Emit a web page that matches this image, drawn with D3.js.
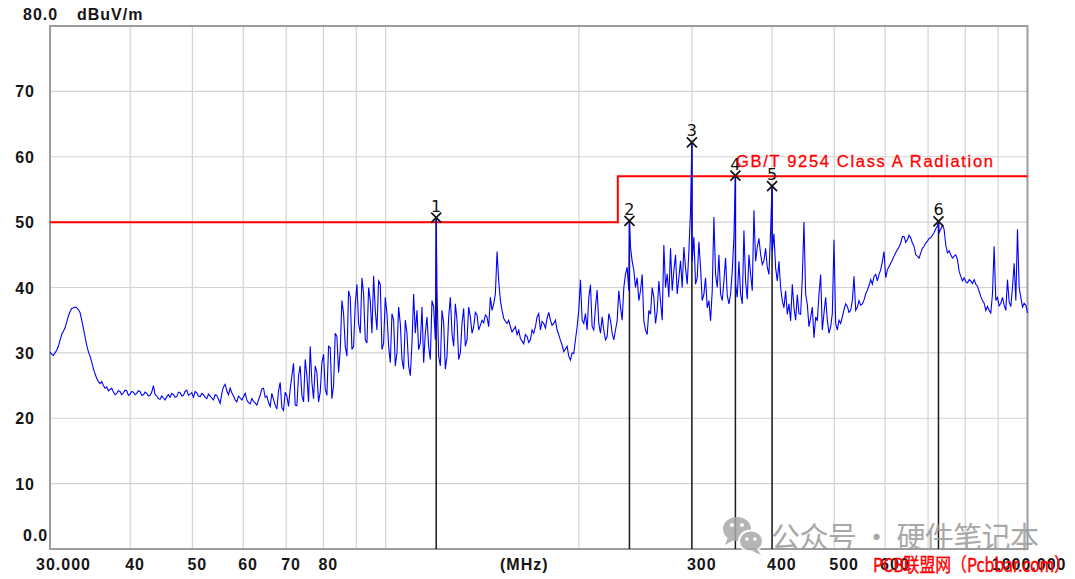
<!DOCTYPE html>
<html><head><meta charset="utf-8">
<script src="https://cdn.jsdelivr.net/npm/d3@7/dist/d3.min.js"></script>
<style>
html,body{margin:0;padding:0;background:#fff;}
svg{display:block;}
</style></head>
<body><svg id="c" width="1075" height="579"></svg>
<script>
// ---------------- DATA ----------------
const freqStartMHz = 30, freqStopMHz = 1000;
// measured level (dBuV/m) at each sweep point (sweep points log-spaced from 30 to 1000 MHz)
const sweepLevels = [
 30.1,29.6,30.4,31.9,33.3,34.7,36.3,36.9,36.9,36.2,
 33.8,31.2,29.5,27.6,26.1,25.3,25.0,24.8,24.4,24.0,
 23.8,24.1,23.9,24.2,23.7,24.0,23.8,24.1,23.6,23.8,
 23.5,25.0,23.4,22.9,23.1,23.3,23.2,23.6,23.3,23.9,
 23.5,24.3,23.7,23.2,23.9,23.3,23.6,23.0,23.4,22.8,
 23.5,22.3,24.8,24.2,24.6,23.4,22.5,23.1,23.3,22.8,
 22.2,22.6,22.0,23.5,24.6,23.4,21.8,22.9,21.4,25.5,
 21.2,23.4,24.5,28.4,21.9,28.0,22.5,26.5,31.0,23.0,
 27.0,24.0,29.8,23.5,30.8,25.0,32.5,30.5,36.0,29.5,
 38.5,31.0,40.5,33.0,39.0,31.5,38.0,41.8,33.5,40.5,
 31.5,36.0,28.5,35.0,30.0,34.5,27.5,33.0,26.5,39.0,
 36.5,31.5,28.5,35.5,29.0,37.0,39.5,28.0,34.5,29.5,
 38.5,31.0,35.0,30.0,36.8,32.0,35.5,34.0,35.8,34.2,
 34.6,35.5,38.5,37.5,45.5,38.0,35.3,34.5,34.0,33.6,
 32.8,32.2,31.4,32.5,32.0,33.0,35.5,33.5,34.5,35.3,
 35.0,34.5,33.5,31.9,30.2,31.0,28.9,29.9,34.0,41.2,
 34.5,33.5,40.4,33.5,39.6,33.0,33.5,32.5,35.0,32.0,
 34.9,37.0,40.0,43.1,46.2,42.6,41.5,39.5,34.9,32.8,
 35.9,38.5,36.4,37.9,46.5,42.1,46.0,42.6,39.0,44.1,
 46.2,40.5,51.8,47.7,41.5,43.0,39.0,36.9,34.9,50.8,
 40.0,39.0,41.0,38.8,39.0,47.7,38.5,39.0,48.7,38.2,
 42.1,51.8,46.2,45.1,44.1,43.1,48.7,48.2,41.0,40.0,
 36.9,35.9,34.9,36.9,38.9,35.9,50.0,37.4,35.4,32.3,
 34.9,42.0,36.1,35.0,34.0,47.3,33.5,34.5,36.6,37.1,
 36.5,41.7,37.0,37.3,38.1,39.6,41.2,41.7,41.0,42.7,
 45.5,42.7,43.7,44.8,45.8,46.8,47.8,47.3,47.6,46.3,
 44.8,45.3,46.3,47.1,47.6,48.4,49.4,48.9,48.9,45.3,
 45.0,44.8,44.3,41.7,41.5,40.7,41.0,41.2,40.2,38.6,
 37.6,37.1,36.1,46.3,38.5,37.6,37.3,41.2,37.1,43.7,
 48.9,38.5,37.6,36.1
];
// measured level (dBuV/m) half-way between consecutive sweep points
const sweepLevelsMid = [
 29.8,30.0,31.0,32.8,33.8,35.6,36.8,37.0,36.6,35.0,
 32.5,30.2,28.6,26.8,25.6,25.6,24.6,24.2,24.6,23.6,
 24.2,23.6,24.3,23.5,24.1,23.6,24.2,23.5,24.0,23.4,
 24.0,23.6,23.0,23.4,22.8,23.6,23.8,23.2,24.0,23.4,
 24.1,23.5,23.9,24.1,23.4,23.8,23.2,23.7,23.1,23.6,
 22.9,23.8,25.2,23.6,23.9,22.8,23.4,22.8,23.8,22.4,
 23.0,22.3,22.8,24.5,23.2,22.4,23.8,22.0,24.2,21.6,
 24.0,21.8,26.5,22.0,26.5,23.5,29.0,22.5,25.5,28.0,
 22.5,28.5,24.5,31.0,23.0,33.0,27.0,38.0,31.0,39.5,
 30.5,37.5,34.5,41.5,32.0,40.0,33.0,36.5,41.0,30.5,
 38.5,31.0,36.0,28.0,37.0,29.0,35.0,28.0,31.5,33.0,
 30.5,37.0,33.0,31.0,38.0,32.0,29.5,36.5,27.5,35.5,
 33.0,37.5,29.0,34.5,31.0,37.0,33.0,36.2,33.5,35.0,
 35.8,34.0,36.5,39.0,41.0,36.5,34.8,35.0,33.2,34.0,
 33.5,31.8,32.8,31.6,33.5,34.0,36.0,34.8,33.8,36.2,
 34.2,35.0,32.8,31.2,30.6,29.5,30.0,32.0,36.5,35.0,
 36.0,38.5,34.0,37.0,34.5,35.5,32.0,36.0,33.0,33.5,
 39.5,35.0,42.0,39.5,44.0,40.0,38.0,42.0,33.5,36.5,
 40.0,34.5,41.0,35.0,40.0,38.5,39.5,45.0,41.5,40.0,
 43.0,45.5,44.0,40.5,47.0,38.0,41.5,38.0,39.5,42.0,
 45.0,38.0,44.5,37.5,42.5,40.5,44.0,37.5,41.0,45.0,
 39.5,44.0,47.5,43.5,46.0,42.0,45.5,43.0,44.0,38.0,
 39.5,37.5,40.5,35.0,36.0,41.5,39.0,34.0,37.0,35.5,
 39.0,33.5,38.5,33.0,36.0,34.5,35.0,35.5,37.5,36.2,
 38.0,36.5,38.0,37.5,39.0,40.3,40.5,42.0,42.0,44.0,
 41.5,43.2,44.2,45.3,46.2,47.8,46.9,48.0,46.8,45.0,
 44.5,46.0,46.8,47.5,48.0,49.0,48.4,49.5,46.5,45.6,
 44.5,45.0,42.5,41.0,40.9,41.2,40.6,40.5,39.4,38.0,
 36.5,36.5,39.0,38.0,37.2,38.5,36.5,37.8,40.0,38.0,
 40.0,37.0,37.3
];
const markerNo    = [1, 2, 3, 4, 5, 6];
const markerFreq  = [119.9, 239.8, 300.0, 350.7, 400.0, 726.6];
const markerLevel = [50.7, 50.2, 62.2, 57.1, 55.5, 50.1];
const limitFreq   = [30, 230, 230, 1000];
const limitLevel  = [50, 50, 57, 57];
const limitName   = "GB/T 9254 Class A Radiation";
const yTicks      = [10, 20, 30, 40, 50, 60, 70];
const xGrid       = [40,50,60,70,80,90,100,200,300,400,500,600,700,800,900];
const xLabelVals  = [30, 40, 50, 60, 70, 80, 300, 400, 500, 600, 1000];
const xLabelTexts = ["30.000","40","50","60","70","80","300","400","500","600","1000.000"];

// ---------------- CHART ----------------
const svg = d3.select("#c");
const L = 50, R = 1027.5, T = 26, B = 549;
const x = d3.scaleLog().domain([freqStartMHz, freqStopMHz]).range([L, R]);
const y = d3.scaleLinear().domain([0, 80]).range([B, T]);
const labelFont = "'Liberation Sans', Arial, sans-serif";

// grid
const g = svg.append("g");
g.selectAll("line.h").data(yTicks).join("line")
  .attr("x1", L).attr("x2", R).attr("y1", d => y(d)).attr("y2", d => y(d))
  .attr("stroke", "#d3d3d3").attr("stroke-width", 1.2);
g.selectAll("line.v").data(xGrid).join("line")
  .attr("x1", d => x(d)).attr("x2", d => x(d)).attr("y1", T).attr("y2", B)
  .attr("stroke", "#d3d3d3").attr("stroke-width", 1.2);

// frame
svg.append("rect").attr("x", L).attr("y", T).attr("width", R - L).attr("height", B - T)
  .attr("fill", "none").attr("stroke", "#9c9c9c").attr("stroke-width", 2);

// limit line
const limitPts = limitFreq.map((f, i) => [f, limitLevel[i]]);
svg.append("path").datum(limitPts)
  .attr("d", d3.line().x(d => x(d[0])).y(d => y(d[1])))
  .attr("fill", "none").attr("stroke", "#ff0000").attr("stroke-width", 2);

// marker vertical lines
svg.selectAll("line.mk").data(markerFreq).join("line")
  .attr("x1", d => x(d)).attr("x2", d => x(d))
  .attr("y1", (d, i) => y(markerLevel[i])).attr("y2", B)
  .attr("stroke", "#1a1a1a").attr("stroke-width", 1.5);

// trace
const n = sweepLevels.length;
const ratio = freqStopMHz / freqStartMHz;
const fAt = (k) => freqStartMHz * Math.pow(ratio, k / (n - 1));
let pts = sweepLevels.map((v, i) => [fAt(i), v]);
sweepLevelsMid.forEach((v, i) => pts.push([fAt(i + 0.5), v]));
markerFreq.forEach((f, i) => pts.push([f, markerLevel[i]]));
pts.sort((a, b) => a[0] - b[0]);
svg.append("path").datum(pts)
  .attr("d", d3.line().x(d => x(d[0])).y(d => y(d[1])))
  .attr("fill", "none").attr("stroke", "#0000ff").attr("stroke-width", 1.1)
  .attr("stroke-linejoin", "miter");

// markers X + numbers
const mk = svg.selectAll("g.mk").data(markerFreq).join("g")
  .attr("transform", (d, i) => `translate(${x(d)},${y(markerLevel[i])})`);
mk.append("path").attr("d", "M-5,-5L5,5M-5,5L5,-5")
  .attr("stroke", "#111").attr("stroke-width", 1.7).attr("fill", "none");
mk.append("text").attr("x", 0).attr("y", -6).attr("text-anchor", "middle")
  .attr("font-family", "'DejaVu Sans', sans-serif").attr("font-size", 16).attr("fill", "#111")
  .text((d, i) => markerNo[i]);

// limit name
svg.append("text").attr("x", 736).attr("y", 167)
  .attr("font-family", labelFont).attr("font-size", 16.5).attr("fill", "#ff0000")
  .attr("stroke", "#ff0000").attr("stroke-width", 0.3)
  .attr("textLength", 257).attr("lengthAdjust", "spacing")
  .text(limitName);

// y labels
const axisText = (sel) => sel.attr("font-family", labelFont).attr("font-size", 16)
  .attr("font-weight", "bold").attr("fill", "#151515").attr("letter-spacing", 1);
svg.selectAll("text.yl").data(yTicks).join("text")
  .attr("x", 35).attr("y", d => y(d) + 6).attr("text-anchor", "end")
  .call(axisText).text(d => d);
svg.append("text").attr("x", 23).attr("y", 541).call(axisText).text("0.0");
svg.append("text").attr("x", 23).attr("y", 20).call(axisText).text("80.0");
svg.append("text").attr("x", 77).attr("y", 20).call(axisText).text("dBuV/m");

// x labels
svg.selectAll("text.xl").data(xLabelVals).join("text")
  .attr("x", (d, i) => i === 0 ? x(d) - 14 : (i === xLabelVals.length - 1 ? x(d) + 39 : x(d) - 5))
  .attr("y", 570)
  .attr("text-anchor", (d, i) => i === xLabelVals.length - 1 ? "end" : "start")
  .call(axisText).text((d, i) => xLabelTexts[i]);
svg.append("text").attr("x", 500).attr("y", 570).call(axisText).text("(MHz)");

// watermark: WeChat icon + account name
const wm = svg.append("g").attr("opacity", 0.85);
wm.append("ellipse").attr("cx", 737).attr("cy", 529).attr("rx", 14).attr("ry", 12).attr("fill", "#a9a9a9");
wm.append("path").attr("d", "M728,537 L725,545 L734,540 Z").attr("fill", "#a9a9a9");
wm.append("circle").attr("cx", 732).attr("cy", 525).attr("r", 2).attr("fill", "#fff");
wm.append("circle").attr("cx", 742).attr("cy", 525).attr("r", 2).attr("fill", "#fff");
wm.append("ellipse").attr("cx", 751).attr("cy", 541).attr("rx", 12).attr("ry", 10.5)
  .attr("fill", "#a9a9a9").attr("stroke", "#fff").attr("stroke-width", 2);
wm.append("path").attr("d", "M757,549 L761,555 L752,551 Z").attr("fill", "#a9a9a9");
wm.append("circle").attr("cx", 747).attr("cy", 539).attr("r", 1.7).attr("fill", "#fff");
wm.append("circle").attr("cx", 755).attr("cy", 539).attr("r", 1.7).attr("fill", "#fff");
wm.append("text").attr("x", 771).attr("y", 548)
  .attr("font-family", "'Noto Sans CJK SC', sans-serif").attr("font-size", 29)
  .attr("fill", "#9a9a9a").attr("textLength", 268).attr("lengthAdjust", "spacing")
  .text("公众号 · 硬件笔记本");

// watermark: site name
svg.append("text").attr("x", 873).attr("y", 572)
  .attr("font-family", "'Noto Sans CJK SC', sans-serif").attr("font-size", 19)
  .attr("fill", "#ff0000").attr("stroke", "#ff0000").attr("stroke-width", 0.4)
  .attr("textLength", 197).attr("lengthAdjust", "spacingAndGlyphs")
  .text("PCB联盟网（Pcbbar.com）");
</script>
</body></html>
